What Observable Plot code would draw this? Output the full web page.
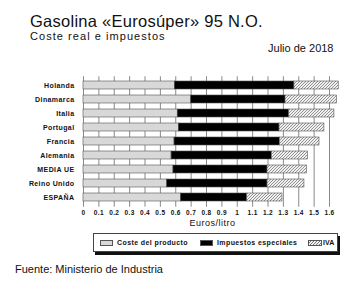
<!DOCTYPE html>
<html>
<head>
<meta charset="utf-8">
<script src="https://cdn.jsdelivr.net/npm/d3@7"></script>
<script src="https://cdn.jsdelivr.net/npm/@observablehq/plot@0.6"></script>
<style>
  html, body { margin: 0; padding: 0; background: #fff; }
  #wrap { position: relative; width: 360px; height: 291px; overflow: hidden; background: #fff;
          font-family: "Liberation Sans", Arial, Helvetica, sans-serif; color: #111; }
  .t { position: absolute; white-space: nowrap; line-height: 1; }
  #chart { position: absolute; left: 0; top: 60px; }
  #chart svg text { letter-spacing: 0.4px; }
  #legend { position: absolute; left: 93px; top: 233px; width: 243px; height: 17px;
            border: 1px solid #444; background: #fff; box-shadow: 2px 3px 0 #111; }
  .sw { position: absolute; top: 6px; width: 13px; height: 6px; border: 0.5px solid #555; box-sizing: border-box; }
  .lt { position: absolute; top: 5px; font-size: 7px; font-weight: bold; letter-spacing: 0.4px; line-height: 1; white-space: nowrap; }
</style>
</head>
<body>
<div id="wrap">
  <div class="t" id="title" style="left:30px; top:12.7px; font-size:16.5px; letter-spacing:0.26px;">Gasolina «Eurosúper» 95 N.O.</div>
  <div class="t" id="subtitle" style="left:30px; top:30.7px; font-size:11px; letter-spacing:1.05px;">Coste real e impuestos</div>
  <div class="t" id="date" style="right:26.5px; top:43px; font-size:11px;">Julio de 2018</div>
  <div id="chart"></div>
  <div class="t" id="xlabel" style="left:0; width:425px; text-align:center; top:219px; font-size:9px; letter-spacing:0.5px;">Euros/litro</div>
  <div id="legend">
    <div class="sw" style="left:6px; background:#d8d8d8;"></div>
    <div class="lt" style="left:23px;">Coste del producto</div>
    <div class="sw" style="left:106px; background:#000;"></div>
    <div class="lt" style="left:123px;">Impuestos especiales</div>
    <div class="sw" style="left:214px; width:14px; background:repeating-linear-gradient(135deg, #f0f0f0 0px, #f0f0f0 1.2px, #7a7a7a 1.2px, #7a7a7a 2.1px);"></div>
    <div class="lt" style="left:229px; letter-spacing:0.1px;">IVA</div>
  </div>
  <div class="t" id="source" style="left:15px; top:264px; font-size:11px;">Fuente: Ministerio de Industria</div>
</div>
<script>
const paises = ["Holanda", "Dinamarca", "Italia", "Portugal", "Francia", "Alemania", "MEDIA UE", "Reino Unido", "ESPAÑA"];
const costeProducto = [0.594, 0.700, 0.613, 0.620, 0.592, 0.573, 0.585, 0.544, 0.634];
const impuestosEspeciales = [0.778, 0.614, 0.725, 0.655, 0.685, 0.652, 0.612, 0.653, 0.431];
const iva = [0.288, 0.334, 0.294, 0.292, 0.258, 0.234, 0.256, 0.240, 0.229];
const componentes = ["Coste del producto", "Impuestos especiales", "IVA"];
const xTicks = [0, 0.1, 0.2, 0.3, 0.4, 0.5, 0.6, 0.7, 0.8, 0.9, 1, 1.1, 1.2, 1.3, 1.4, 1.5, 1.6];

const series = [costeProducto, impuestosEspeciales, iva];
const rows = [];
paises.forEach((p, i) => {
  componentes.forEach((c, j) => rows.push({pais: p, tipo: c, valor: series[j][i]}));
});

const svg = Plot.plot({
  width: 360,
  height: 175,
  marginLeft: 83,
  marginRight: 31,
  marginTop: 16.25,
  marginBottom: 28.25,
  style: {background: "transparent", overflow: "visible", fontFamily: "'Liberation Sans', Arial, sans-serif", color: "#111"},
  x: {domain: [0, 1.6]},
  y: {domain: paises, paddingInner: 0.4, paddingOuter: 0.2},
  color: {domain: componentes, range: ["#d8d8d8", "#000000", "url(#hatch)"]},
  marks: [
    Plot.ruleX(xTicks, {stroke: "#8a8a8a", strokeWidth: 1}),
    Plot.barX(rows, {y: "pais", x: "valor", fill: "tipo", stroke: "#555", strokeWidth: 0.6}),
    Plot.axisX({ticks: xTicks, tickSize: 0, tickPadding: 3, tickFormat: d => String(d), fontSize: 6.5, fontWeight: "bold", label: null}),
    Plot.axisY({tickSize: 0, tickPadding: 9, fontSize: 7, fontWeight: "bold", label: null})
  ]
});

const defs = d3.select(svg).insert("defs", ":first-child");
const pat = defs.append("pattern")
  .attr("id", "hatch")
  .attr("patternUnits", "userSpaceOnUse")
  .attr("width", 3).attr("height", 3);
pat.append("rect").attr("width", 3).attr("height", 3).attr("fill", "#f0f0f0");
pat.append("path")
  .attr("d", "M-0.75,0.75 L0.75,-0.75 M0,3 L3,0 M2.25,3.75 L3.75,2.25")
  .attr("stroke", "#7a7a7a").attr("stroke-width", 0.8);

document.getElementById("chart").appendChild(svg);
</script>
</body>
</html>
